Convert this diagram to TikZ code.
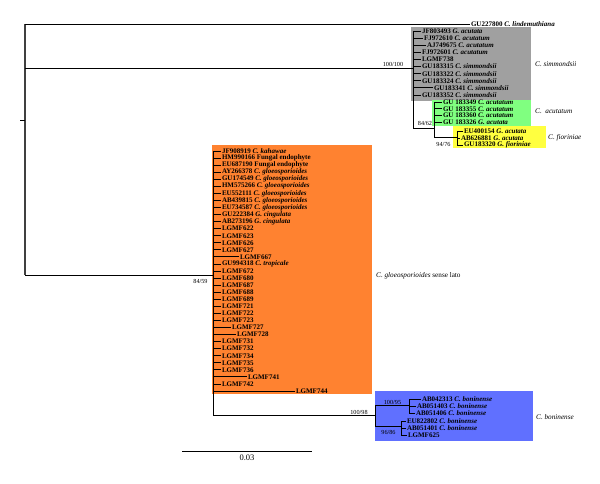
\documentclass[tikz,border=0pt]{standalone}
\usepackage{fontspec}
\setmainfont{Liberation Serif}
\definecolor{simgray}{RGB}{160,160,160}
\definecolor{acugreen}{RGB}{128,255,128}
\definecolor{fioyellow}{RGB}{255,255,64}
\definecolor{glorange}{RGB}{255,130,48}
\definecolor{bonblue}{RGB}{96,112,255}
\tikzset{
  branch/.style={line width=0.9pt},
  rootline/.style={line width=1.4pt, black!75},
  taxon/.style={anchor=west, inner sep=0.8pt, font=\fontsize{7}{7}\selectfont\bfseries},
  support/.style={inner sep=0.5pt, font=\fontsize{6.2}{6}\selectfont},
  cladename/.style={anchor=west, inner sep=0pt, font=\fontsize{7.2}{7}\selectfont\itshape},
}

\begin{document}
\begin{tikzpicture}[x=1pt,y=-1pt]
  \useasboundingbox (0,0) rectangle (600,484);
  % clade boxes
  \fill[simgray]   (411,27)  rectangle (531,101);
  \fill[acugreen]  (432,100) rectangle (531,126);
  \fill[fioyellow] (453,126) rectangle (546,148);
  \fill[glorange]  (212,145) rectangle (372,394);
  \fill[bonblue]   (375,391) rectangle (533,441);

  % internal nodes
  \coordinate (root) at (25,120);
  \coordinate (nS)  at (413,68);  % simmondsii
  \coordinate (nA)  at (434,128); % acutatum
  \coordinate (nF)  at (457,137); % fioriniae
  \coordinate (nG)  at (213,275); % gloeosporioides
  \coordinate (nB)  at (375,415); % boninense
  \coordinate (nB1) at (409,405);
  \coordinate (nB2) at (401,426);

  % outgroup
  \node[taxon] (lind) at (470,24) {GU227800 \textit{C. lindemuthiana}};
  \draw[rootline] (root |- lind.west) -- (root |- nG); % root
  \draw[branch] (root) -- ++(-5,0);
  \draw[branch] (root |- lind.west) -- (lind.west);
  \draw[branch] (root |- nS) -- (nS);
  \draw[branch] (root |- nG) -- (nG);

  % simmondsii
  \foreach \lab/\tip [count=\i] in {
      {JF803493 \textit{G. acutata}}/421,
      {FJ972610 \textit{C. acutatum}}/423,
      {AJ749675 \textit{C. acutatum}}/426,
      {FJ972601 \textit{C. acutatum}}/421,
      {LGMF738}/421,
      {GU183315 \textit{C. simmondsii}}/421,
      {GU183322 \textit{C. simmondsii}}/421,
      {GU183324 \textit{C. simmondsii}}/421,
      {GU183341 \textit{C. simmondsii}}/433,
      {GU183352 \textit{C. simmondsii}}/421}{
    \node[taxon] (s\i) at (\tip,{31+(\i-1)*7.11}) {\lab};
    \draw[branch] (nS |- s\i.west) -- (s\i.west);
  }
  \draw[branch] (nS |- s1.west) -- (nS |- nA) -- (nA);

  % acutatum
  \foreach \lab [count=\i] in {
      {GU 183349 \textit{C. acutatum}},
      {GU 183355 \textit{C. acutatum}},
      {GU 183360 \textit{C. acutatum}},
      {GU 183326 \textit{G. acutata}}}{
    \node[taxon] (a\i) at (442,{102+(\i-1)*6.8}) {\lab};
    \draw[branch] (nA |- a\i.west) -- (a\i.west);
  }
  \draw[branch] (nA |- a1.west) -- (nA |- nF) -- (nF);

  % fioriniae
  \foreach \lab/\tip [count=\i] in {
      {EU400154 \textit{G. acutata}}/463,
      {AB626881 \textit{G. acutata}}/460,
      {GU183320 \textit{G. fioriniae}}/463}{
    \node[taxon] (f\i) at (\tip,{131+(\i-1)*7}) {\lab};
    \draw[branch] (nF |- f\i.west) -- (f\i.west);
  }
  \draw[branch] (nF |- f1.west) -- (nF |- f3.west);

  % gloeosporioides sense lato
  \foreach \lab/\tip [count=\i] in {
      {JF908919 \textit{C. kahawae}}/221,
      {HM990166 Fungal endophyte}/221,
      {EU687190 Fungal endophyte}/221,
      {AY266378 \textit{C. gloeosporioides}}/221,
      {GU174549 \textit{C. gloeosporioides}}/221,
      {HM575266 \textit{C. gloeosporioides}}/221,
      {EU552111 \textit{C. gloeosporioides}}/221,
      {AB439815 \textit{C. gloeosporioides}}/221,
      {EU734587 \textit{C. gloeosporioides}}/221,
      {GU222384 \textit{G. cingulata}}/221,
      {AB273196 \textit{G. cingulata}}/221,
      {LGMF622}/221, {LGMF623}/221, {LGMF626}/221, {LGMF627}/221,
      {LGMF667}/239,
      {GU994318 \textit{C. tropicale}}/221,
      {LGMF672}/221, {LGMF680}/221, {LGMF687}/221, {LGMF688}/221,
      {LGMF689}/221, {LGMF721}/221, {LGMF722}/221, {LGMF723}/221,
      {LGMF727}/231, {LGMF728}/236,
      {LGMF731}/221, {LGMF732}/221, {LGMF734}/221, {LGMF735}/221,
      {LGMF736}/221, {LGMF741}/247, {LGMF742}/221, {LGMF744}/295}{
    \node[taxon] (o\i) at (\tip,{151+(\i-1)*7.06}) {\lab};
    \draw[branch] (nG |- o\i.west) -- (o\i.west);
  }
  \draw[branch] (nG |- o1.west) -- (nG |- nB) -- (nB);

  % boninense
  \draw[branch] (nB |- nB1) -- (nB |- nB2);
  \draw[branch] (nB |- nB1) -- (nB1);
  \draw[branch] (nB |- nB2) -- (nB2);
  \foreach \lab/\tip [count=\i] in {
      {AB042313 \textit{C. boninense}}/421,
      {AB051403 \textit{C. boninense}}/416,
      {AB051406 \textit{C. boninense}}/415}{
    \node[taxon] (b\i) at (\tip,{399+(\i-1)*7}) {\lab};
    \draw[branch] (nB1 |- b\i.west) -- (b\i.west);
  }
  \draw[branch] (nB1 |- b1.west) -- (nB1 |- b3.west);
  \foreach \lab/\tip [count=\i from 4] in {
      {EU822802 \textit{C. boninense}}/406,
      {AB051401 \textit{C. boninense}}/406,
      {LGMF625}/407}{
    \node[taxon] (b\i) at (\tip,{421+(\i-4)*7}) {\lab};
    \draw[branch] (nB2 |- b\i.west) -- (b\i.west);
  }
  \draw[branch] (nB2 |- b4.west) -- (nB2 |- b6.west);

  % support values
  \node[support] at (393,64)    {100/100};
  \node[support] at (425,123)   {84/62};
  \node[support] at (443.5,144) {94/76};
  \node[support] at (200.5,281) {84/59};
  \node[support] at (359,412)   {100/98};
  \node[support] at (392.5,402) {100/95};
  \node[support] at (388.5,432) {96/86};

  % clade names
  \node[cladename] at (535,64)  {C. simmondsii};
  \node[cladename] at (535,111) {C.\ \ acutatum};
  \node[cladename] at (548,138) {C. fioriniae};
  \node[cladename] at (376,276) {C. gloeosporioides \upshape sense lato};
  \node[cladename] at (536,417) {C. boninense};

  % scale bar
  \coordinate (sbl) at (182,451);
  \coordinate (sbr) at (312,451);
  \draw[branch] (sbl) -- node[below=3pt, inner sep=0pt, font=\fontsize{8.5}{8}\selectfont] {0.03} (sbr);
\end{tikzpicture}
\end{document}
